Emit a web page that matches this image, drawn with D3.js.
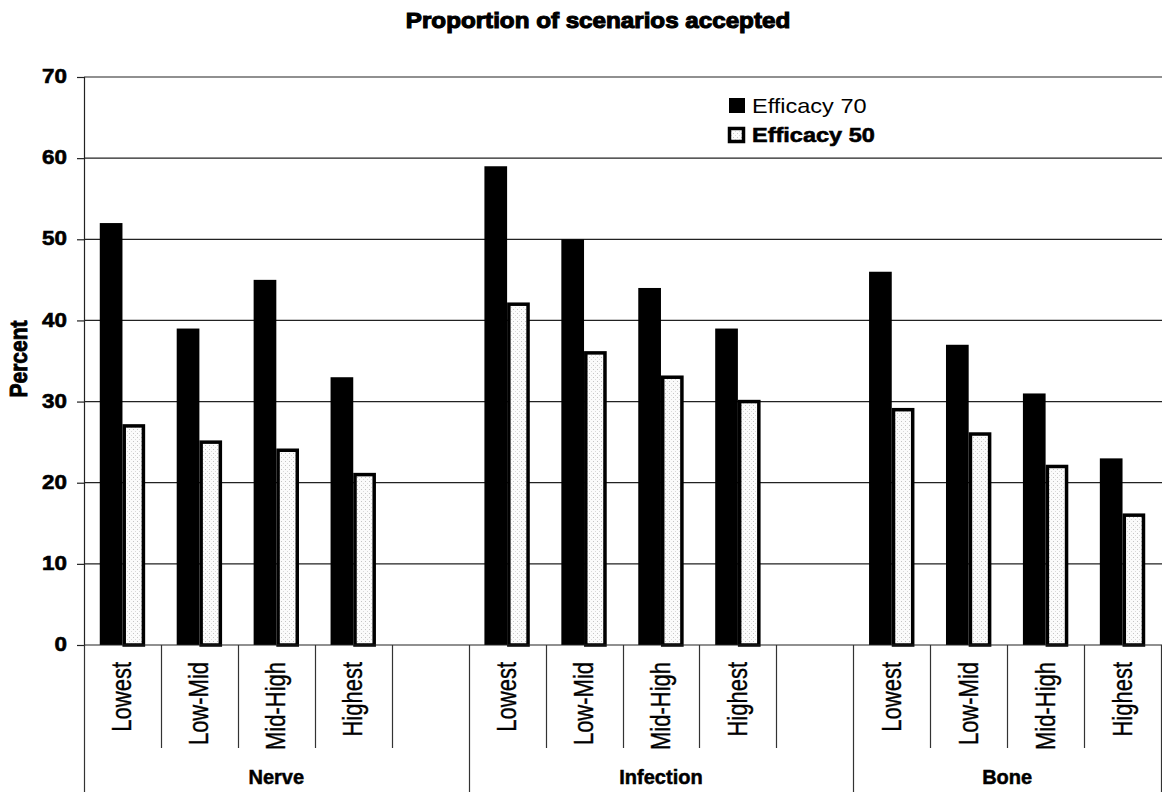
<!DOCTYPE html>
<html>
<head>
<meta charset="utf-8">
<script src="https://cdn.jsdelivr.net/npm/d3@7"></script>
<style>
  html, body { margin: 0; padding: 0; background: #fff; }
  svg { display: block; font-family: "Liberation Sans", Arial, sans-serif; }
</style>
</head>
<body>
<svg id="chart" width="1162" height="794"></svg>
<script>
// Chart data
const groups = ["Nerve", "Infection", "Bone"];
const levels = ["Lowest", "Low-Mid", "Mid-High", "Highest"];
const seriesNames = ["Efficacy 70", "Efficacy 50"];
const efficacy70 = [
  [52, 39, 45, 33],
  [59, 50, 44, 39],
  [46, 37, 31, 23]
];
const efficacy50 = [
  [27, 25, 24, 21],
  [42, 36, 33, 30],
  [29, 26, 22, 16]
];
const yTicks = [0, 10, 20, 30, 40, 50, 60, 70];
const titleText = "Proportion of scenarios accepted";
const yLabel = "Percent";

// Layout
const W = 1162, H = 794;
const plotLeft = 84, plotRight = 1161, plotTop = 77, plotBottom = 645;
const sx = 1.12; // horizontal glyph stretch

const svg = d3.select("#chart");
const defs = svg.append("defs");
const pat = defs.append("pattern")
  .attr("id", "dots").attr("patternUnits", "userSpaceOnUse")
  .attr("width", 4).attr("height", 4);
pat.append("rect").attr("width", 4).attr("height", 4).attr("fill", "#fbfbfb");
pat.append("rect").attr("x", 1).attr("y", 1).attr("width", 1).attr("height", 1).attr("fill", "#c4c4c4");
pat.append("rect").attr("x", 3).attr("y", 3).attr("width", 1).attr("height", 1).attr("fill", "#dadada");

// Slots: each group's levels, with an empty spacer slot between groups
const slots = [];
groups.forEach((g, gi) => {
  levels.forEach(l => slots.push(g + "|" + l));
  if (gi < groups.length - 1) slots.push(g + "|");
});

const x = d3.scaleBand().domain(slots).range([plotLeft, plotRight]).padding(0);
const bw = x.bandwidth();
const xs = d3.scaleBand().domain(seriesNames).range([bw * 0.205, bw * 0.795]).padding(0);
const y = d3.scaleLinear().domain([0, 70]).range([plotBottom, plotTop]);

// Gridlines
svg.append("g").selectAll("line")
  .data(yTicks.filter(t => t > 0))
  .join("line")
  .attr("x1", plotLeft).attr("x2", W)
  .attr("y1", d => y(d)).attr("y2", d => y(d))
  .attr("stroke", "#222").attr("stroke-width", 1.2);

// Y axis
const yAxis = svg.append("g")
  .attr("transform", `translate(${plotLeft},0)`)
  .call(d3.axisLeft(y).tickValues(yTicks).tickSize(7).tickPadding(10).tickFormat(d3.format("d")));
yAxis.select(".domain").attr("stroke", "#222").attr("stroke-width", 1.2);
yAxis.selectAll(".tick line").attr("stroke", "#222").attr("stroke-width", 1.2);
yAxis.selectAll(".tick text")
  .attr("font-size", 20).attr("font-weight", "bold").attr("fill", "#000")
  .attr("stroke", "#000").attr("stroke-width", 0.6)
  .attr("font-family", "'Liberation Sans', Arial, sans-serif")
  .attr("dy", "0.28em")
  .each(function () {
    const t = d3.select(this);
    const tx = +t.attr("x");
    t.attr("x", null).attr("transform", `translate(${tx},0) scale(${sx},1)`);
  });

// Bars
const rows = [];
groups.forEach((g, gi) => {
  levels.forEach((l, li) => {
    rows.push({ slot: g + "|" + l, series: seriesNames[0], value: efficacy70[gi][li] });
    rows.push({ slot: g + "|" + l, series: seriesNames[1], value: efficacy50[gi][li] });
  });
});

svg.append("g").selectAll("rect")
  .data(rows.filter(d => d.series === seriesNames[0]))
  .join("rect")
  .attr("x", d => x(d.slot) + xs(d.series))
  .attr("width", xs.bandwidth())
  .attr("y", d => y(d.value))
  .attr("height", d => y(0) - y(d.value))
  .attr("fill", "#000");

const sw = 3.5;
svg.append("g").selectAll("rect")
  .data(rows.filter(d => d.series === seriesNames[1]))
  .join("rect")
  .attr("x", d => x(d.slot) + xs(d.series) + sw / 2)
  .attr("width", xs.bandwidth() - sw)
  .attr("y", d => y(d.value))
  .attr("height", d => y(0) - y(d.value))
  .attr("fill", "url(#dots)")
  .attr("stroke", "#000").attr("stroke-width", sw);

// Baseline
svg.append("line")
  .attr("x1", plotLeft).attr("x2", W).attr("y1", plotBottom).attr("y2", plotBottom)
  .attr("stroke", "#222").attr("stroke-width", 1.2);

// Category divider lines
const slotBottom = 748, groupBottom = 792;
const dividers = [];
slots.forEach((s, i) => {
  const isGroupStart = i === 0 || s.split("|")[0] !== slots[i - 1].split("|")[0];
  dividers.push({ x: x(s), y2: isGroupStart ? groupBottom : slotBottom });
});
dividers.push({ x: plotRight, y2: groupBottom });
svg.append("g").selectAll("line")
  .data(dividers)
  .join("line")
  .attr("x1", d => Math.round(d.x) + 0.5).attr("x2", d => Math.round(d.x) + 0.5)
  .attr("y1", plotBottom).attr("y2", d => d.y2)
  .attr("stroke", "#333").attr("stroke-width", 1.2);

// Level labels (rotated)
svg.append("g").selectAll("text")
  .data(slots.filter(s => s.split("|")[1]))
  .join("text")
  .attr("transform", s => `translate(${x(s) + bw / 2 + 9},662) scale(1.28,1) rotate(-90)`)
  .attr("text-anchor", "end")
  .attr("font-size", 22)
  .attr("fill", "#000")
  .attr("stroke", "#000").attr("stroke-width", 0.3)
  .text(s => s.split("|")[1]);

// Group labels
svg.append("g").selectAll("text")
  .data(groups)
  .join("text")
  .attr("transform", g => {
    const gs = slots.filter(s => s.startsWith(g + "|"));
    const x0 = x(gs[0]);
    const x1 = (g === groups[groups.length - 1]) ? plotRight : x(gs[gs.length - 1]) + bw;
    return `translate(${(x0 + x1) / 2},784) scale(1.0,1)`;
  })
  .attr("text-anchor", "middle")
  .attr("font-size", 20).attr("font-weight", "bold")
  .attr("fill", "#000")
  .attr("stroke", "#000").attr("stroke-width", 0.5)
  .text(d => d);

// Title
svg.append("text")
  .attr("transform", `translate(598,28) scale(1.1,1)`)
  .attr("text-anchor", "middle")
  .attr("font-size", 22).attr("font-weight", "bold")
  .attr("fill", "#000")
  .attr("stroke", "#000").attr("stroke-width", 1.1)
  .text(titleText);

// Y axis title
svg.append("text")
  .attr("transform", `translate(27,359) scale(1.15,1) rotate(-90)`)
  .attr("text-anchor", "middle")
  .attr("font-size", 21).attr("font-weight", "bold")
  .attr("fill", "#000")
  .attr("stroke", "#000").attr("stroke-width", 0.8)
  .text(yLabel);

// Legend
const legend = svg.append("g");
const lg = [
  { name: seriesNames[0], yy: 98, bold: false },
  { name: seriesNames[1], yy: 127, bold: true }
];
legend.selectAll("rect")
  .data(lg)
  .join("rect")
  .attr("x", (d, i) => i === 0 ? 729 : 729.5)
  .attr("y", d => d.yy + (d.bold ? 1.5 : 0))
  .attr("width", (d, i) => i === 0 ? 16 : 14)
  .attr("height", (d, i) => i === 0 ? 15 : 13)
  .attr("fill", (d, i) => i === 0 ? "#000" : "url(#dots)")
  .attr("stroke", (d, i) => i === 0 ? "none" : "#000")
  .attr("stroke-width", 3.5);
legend.selectAll("text")
  .data(lg)
  .join("text")
  .attr("transform", d => `translate(752,${d.yy + 15}) scale(${sx},1)`)
  .attr("font-size", 21)
  .attr("font-weight", d => d.bold ? "bold" : "normal")
  .attr("fill", "#000")
  .attr("stroke", "#000").attr("stroke-width", d => d.bold ? 0.6 : 0)
  .text(d => d.name);
</script>
</body>
</html>
